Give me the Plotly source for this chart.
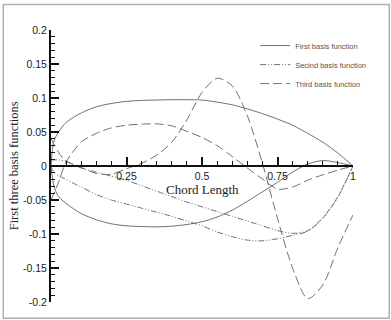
import plotly.graph_objects as go

# ---- data ----
x_chord = [0, 0.01, 0.025, 0.05, 0.1, 0.15, 0.2, 0.25, 0.3, 0.35, 0.4, 0.45,
           0.5, 0.55, 0.6, 0.65, 0.7, 0.75, 0.8, 0.85, 0.9, 0.95, 1.0]

first_upper = [0, 0.037, 0.05, 0.064, 0.078, 0.087, 0.092, 0.095, 0.0965, 0.097, 0.0975, 0.0975,
               0.097, 0.094, 0.09, 0.084, 0.077, 0.069, 0.06, 0.048, 0.035, 0.019, 0]
first_lower = [0, -0.03, -0.045, -0.055, -0.07, -0.079, -0.085, -0.088, -0.089, -0.0895, -0.0885, -0.086,
               -0.082, -0.075, -0.065, -0.052, -0.038, -0.024, -0.009, 0.003, 0.008, 0.005, 0]

second_upper = [0.009, 0.009, 0.009, 0.007, -0.003, -0.009, -0.015, -0.021, -0.029, -0.037, -0.045, -0.053,
                -0.06, -0.067, -0.074, -0.081, -0.088, -0.095, -0.099, -0.095, -0.076, -0.045, 0]
second_lower = [0, -0.01, -0.014, -0.02, -0.031, -0.042, -0.05, -0.056, -0.062, -0.068, -0.074, -0.081,
                -0.088, -0.097, -0.104, -0.109, -0.11, -0.107, -0.102, -0.096, -0.077, -0.046, 0]

third_upper = [-0.05, -0.04, -0.024, 0.006, 0.035, 0.048, 0.056, 0.06, 0.0615, 0.062, 0.059, 0.051,
               0.042, 0.03, 0.014, -0.003, -0.019, -0.034, -0.031, -0.021, -0.013, -0.006, 0]
third_lower = [0.04, 0.032, 0.02, 0.007, -0.002, -0.011, -0.012, -0.004, 0.004, 0.016, 0.035, 0.068,
               0.108, 0.129, 0.118, 0.074, 0.004, -0.077, -0.15, -0.195, -0.175, -0.12, -0.072]

series_names = ["First basis function", "Secind basis function", "Third basis function"]

x_tickvals = [0.25, 0.5, 0.75, 1]
x_ticktext = ["0.25", "0.5", "0.75", "1"]
y_tickvals = [-0.2, -0.15, -0.1, -0.05, 0, 0.05, 0.1, 0.15, 0.2]
y_ticktext = ["-0.2", "-0.15", "-0.1", "-0.05", "0", "0.05", "0.1", "0.15", "0.2"]

x_title = "Chord Length"
y_title = "First three basis functions"

# ---- styles ----
line_color = "#707070"
dashes = ["solid", "6px,2px,1px,2px,1px,2px", "9px,4px"]
branches = [(first_upper, first_lower), (second_upper, second_lower), (third_upper, third_lower)]

fig = go.Figure()
for name, dash, (up, lo) in zip(series_names, dashes, branches):
    fig.add_trace(go.Scatter(x=x_chord, y=up, mode="lines", name=name, legendgroup=name,
                             line=dict(color=line_color, width=1, dash=dash, shape="spline", smoothing=0.8)))
    fig.add_trace(go.Scatter(x=x_chord, y=lo, mode="lines", name=name, legendgroup=name, showlegend=False,
                             line=dict(color=line_color, width=1, dash=dash, shape="spline", smoothing=0.8)))

tick_font = dict(family="Liberation Sans, Arial, sans-serif", size=10.5, color="#222")

fig.update_layout(
    width=391, height=320,
    margin=dict(l=51, r=38, t=30, b=14),
    paper_bgcolor="white", plot_bgcolor="white",
    showlegend=True,
    legend=dict(x=0.676, y=0.996, xanchor="left", yanchor="top",
                bgcolor="rgba(0,0,0,0)", borderwidth=0, tracegroupgap=0,
                font=dict(family="Liberation Sans, Arial, sans-serif", size=7.5, color="#555"),
                itemwidth=30),
    xaxis=dict(range=[0, 1], anchor="free", position=0.5, side="bottom",
               showline=True, linecolor="#111", linewidth=2, showgrid=False, zeroline=False,
               tickmode="array", tickvals=x_tickvals, ticktext=x_ticktext,
               ticks="inside", ticklen=8, tickwidth=1.5, tickcolor="#111",
               tickfont=tick_font,
               minor=dict(tickmode="linear", tick0=0, dtick=0.05, ticks="inside", ticklen=4,
                          tickwidth=1, tickcolor="#111", showgrid=False)),
    yaxis=dict(range=[-0.2, 0.2], showline=True, linecolor="#111", linewidth=2,
               showgrid=False, zeroline=False,
               tickmode="array", tickvals=y_tickvals, ticktext=y_ticktext,
               ticks="inside", ticklen=8, tickwidth=1.5, tickcolor="#111",
               tickfont=tick_font,
               minor=dict(tickmode="linear", tick0=0, dtick=0.01, ticks="inside", ticklen=4,
                          tickwidth=1, tickcolor="#111", showgrid=False)),
    annotations=[
        dict(text=x_title, x=0.5, y=-0.034, xref="x", yref="y", showarrow=False,
             xanchor="center", yanchor="middle",
             font=dict(family="Liberation Serif, Times New Roman, serif", size=13, color="#222")),
        dict(text=y_title, x=-0.1215, y=0.5, xref="paper", yref="paper", showarrow=False,
             textangle=-90, xanchor="center", yanchor="middle",
             font=dict(family="Liberation Serif, Times New Roman, serif", size=12.5, color="#222")),
    ],
    shapes=[
        dict(type="rect", xref="paper", yref="paper", x0=-0.158, x1=1.12, y0=-0.06, y1=1.094,
             line=dict(color="#b0b0b0", width=1.5), fillcolor="rgba(0,0,0,0)", layer="below"),
    ],
)

fig.write_html("out.html")
